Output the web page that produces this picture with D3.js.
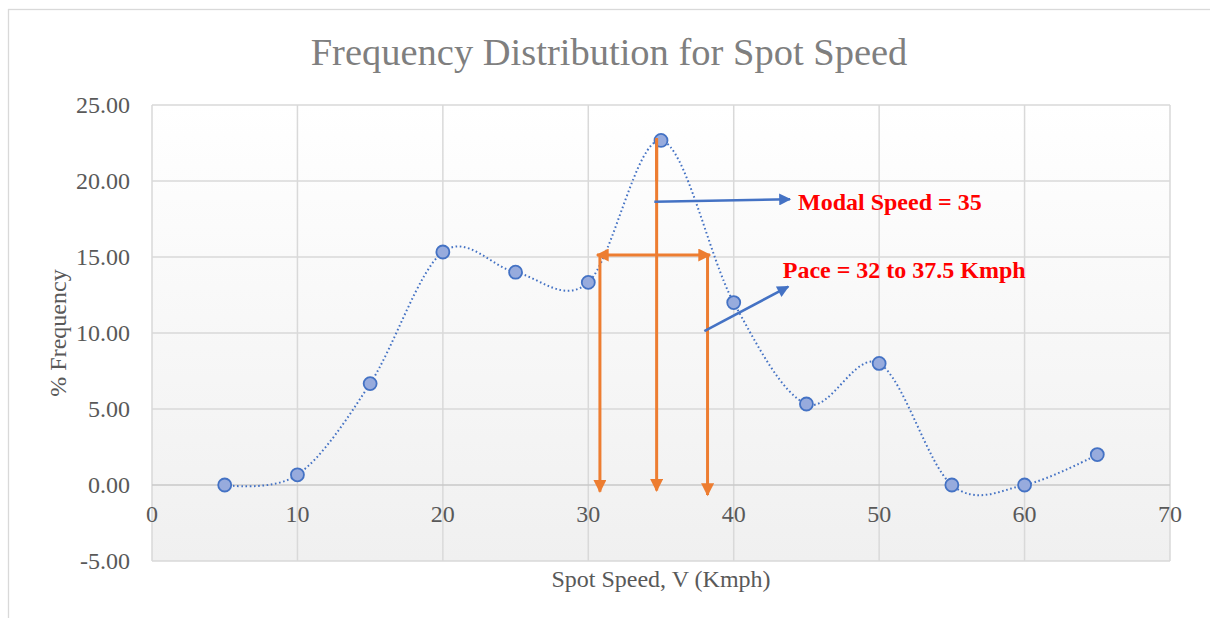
<!DOCTYPE html>
<html>
<head>
<meta charset="utf-8">
<script src="https://cdn.jsdelivr.net/npm/d3@7"></script>
<style>
body{margin:0;background:#fff;}
text{font-family:"Liberation Serif","Times New Roman",serif;}
</style>
</head>
<body>
<div id="chart"></div>
<script>

// spot speed classes and % frequency
let speeds=[5,10,15,20,25,30,35,40,45,50,55,60,65];
let freqs=[0,0.67,6.67,15.33,14.0,13.33,22.67,12.0,5.33,8.0,0,0,2.0];
let xTicks=[0,10,20,30,40,50,60,70];
let yTicks=[-5,0,5,10,15,20,25];

// annotation lines, in chart units [x1,y1,x2,y2]
let orangeDown=[[30.8,15.13,30.8,-0.44],[34.7,22.83,34.7,-0.37],[38.2,15.13,38.2,-0.66]];
let paceSpan=[30.6,15.13,38.37,15.13];
let blueArrows=[[34.54,18.64,43.87,18.8],[37.98,10.13,43.75,13.05]];
let noteText=["Modal Speed = 35","Pace = 32 to 37.5 Kmph"];
let noteAt=[[44.42,18.09],[43.37,13.64]];

let width=1210;
let height=618;

let chart=d3.select("#chart")
.append("svg")
.attr("width",width).attr("height",height);

let x=d3.scaleLinear().domain([0,70]).range([152,1170]);
let y=d3.scaleLinear().domain([-5,25]).range([561,105]);

// outer chart frame
chart.append("rect")
.attr("x",8.5).attr("y",9.5)
.attr("width",1210).attr("height",620)
.attr("fill","#fff").attr("stroke","#d9d9d9").attr("stroke-width",1.3);

let defs=chart.append("defs");
let grad=defs.append("linearGradient").attr("id","plotbg")
.attr("x1",0).attr("y1",0).attr("x2",0).attr("y2",1);
grad.append("stop").attr("offset","0%").attr("stop-color","#ffffff");
grad.append("stop").attr("offset","100%").attr("stop-color","#f0f0f0");

function arrowMarker(id,color,w,h){
    defs.append("marker").attr("id",id)
    .attr("viewBox","0 0 10 10").attr("refX",9).attr("refY",5)
    .attr("markerUnits","userSpaceOnUse")
    .attr("markerWidth",w).attr("markerHeight",h)
    .attr("orient","auto-start-reverse")
    .append("path").attr("d","M0,0L10,5L0,10Z").attr("fill",color);
}
arrowMarker("orangeHead","#ed7d31",15,13);
arrowMarker("blueHead","#4472c4",15,12);

chart.append("rect")
.attr("x",x(0)).attr("y",y(25))
.attr("width",x(70)-x(0)).attr("height",y(-5)-y(25))
.attr("fill","url(#plotbg)");

// grid
chart.append("g").selectAll("line")
.data(xTicks).enter().append("line")
.attr("x1",d=>x(d)).attr("x2",d=>x(d))
.attr("y1",y(25)).attr("y2",y(-5))
.attr("stroke","#d9d9d9").attr("stroke-width",1.5);

chart.append("g").selectAll("line")
.data(yTicks).enter().append("line")
.attr("x1",x(0)).attr("x2",x(70))
.attr("y1",d=>y(d)).attr("y2",d=>y(d))
.attr("stroke",d=>d===0?"#c9c9c9":"#d9d9d9").attr("stroke-width",1.5);

// tick labels (plain hyphen for the negative one, like the source)
chart.append("g").selectAll("text")
.data(yTicks).enter().append("text")
.text(d=>d3.format(".2f")(d).replace("\u2212","-"))
.attr("x",130).attr("y",d=>y(d)+8)
.attr("text-anchor","end")
.attr("font-size",24).attr("fill","#595959");

chart.append("g").selectAll("text")
.data(xTicks).enter().append("text")
.text(d=>d)
.attr("x",d=>x(d)).attr("y",y(0)+37)
.attr("text-anchor","middle")
.attr("font-size",24).attr("fill","#595959");

// titles
chart.append("text").text("Frequency Distribution for Spot Speed")
.attr("x",609).attr("y",65)
.attr("text-anchor","middle")
.attr("font-size",38.5).attr("fill","#7f7f7f");

chart.append("text").text("Spot Speed, V (Kmph)")
.attr("x",661).attr("y",587)
.attr("text-anchor","middle")
.attr("font-size",24).attr("fill","#595959");

chart.append("text").text("% Frequency")
.attr("transform","translate(66,333) rotate(-90)")
.attr("text-anchor","middle")
.attr("font-size",24).attr("fill","#595959");

// smoothed series
let pts=speeds.map((s,i)=>[s,freqs[i]]);
let line=d3.line()
.x(d=>x(d[0])).y(d=>y(d[1]))
.curve(d3.curveCardinal.tension(0));

chart.append("path")
.datum(pts)
.attr("d",line)
.attr("fill","none")
.attr("stroke","#4472c4").attr("stroke-width",2)
.attr("stroke-dasharray","1.6 2.6");

// orange pace/mode lines
chart.append("g").selectAll("line")
.data(orangeDown).enter().append("line")
.attr("x1",d=>x(d[0])).attr("y1",d=>y(d[1]))
.attr("x2",d=>x(d[2])).attr("y2",d=>y(d[3]))
.attr("stroke","#ed7d31").attr("stroke-width",3)
.attr("marker-end","url(#orangeHead)");

chart.append("line")
.attr("x1",x(paceSpan[0])).attr("y1",y(paceSpan[1]))
.attr("x2",x(paceSpan[2])).attr("y2",y(paceSpan[3]))
.attr("stroke","#ed7d31").attr("stroke-width",3)
.attr("marker-start","url(#orangeHead)")
.attr("marker-end","url(#orangeHead)");

// markers
chart.append("g").selectAll("circle")
.data(pts).enter().append("circle")
.attr("cx",d=>x(d[0])).attr("cy",d=>y(d[1]))
.attr("r",6.5)
.attr("fill","#97abdd").attr("stroke","#4472c4").attr("stroke-width",1.8);

// redraw the mode line over the peak marker
chart.append("line")
.attr("x1",x(orangeDown[1][0])).attr("y1",y(orangeDown[1][1]))
.attr("x2",x(orangeDown[1][0])).attr("y2",y(20))
.attr("stroke","#ed7d31").attr("stroke-width",3);

// blue call-out arrows
chart.append("g").selectAll("line")
.data(blueArrows).enter().append("line")
.attr("x1",d=>x(d[0])).attr("y1",d=>y(d[1]))
.attr("x2",d=>x(d[2])).attr("y2",d=>y(d[3]))
.attr("stroke","#4472c4").attr("stroke-width",2.5)
.attr("marker-end","url(#blueHead)");

chart.append("g").selectAll("text")
.data(noteText).enter().append("text")
.text(d=>d)
.attr("x",(d,i)=>x(noteAt[i][0])).attr("y",(d,i)=>y(noteAt[i][1]))
.attr("font-size",24).attr("font-weight","bold").attr("fill","#ff0000");

</script>
</body>
</html>
